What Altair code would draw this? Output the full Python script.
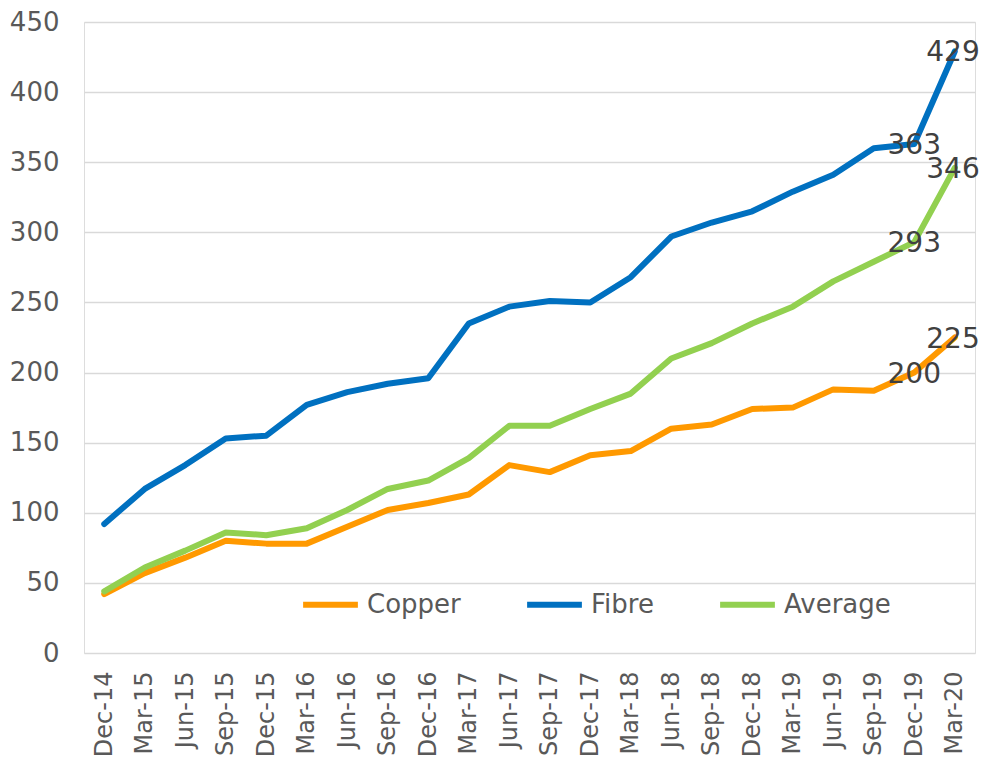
import altair as alt
import pandas as pd

dates = ["Dec-14", "Mar-15", "Jun-15", "Sep-15", "Dec-15", "Mar-16", "Jun-16", "Sep-16",
         "Dec-16", "Mar-17", "Jun-17", "Sep-17", "Dec-17", "Mar-18", "Jun-18", "Sep-18",
         "Dec-18", "Mar-19", "Jun-19", "Sep-19", "Dec-19", "Mar-20"]
copper = [42, 57, 68, 80, 78, 78, 90, 102, 107, 113, 134, 129, 141, 144, 160, 163, 174, 175, 188, 187, 200, 225]
fibre = [92, 117, 134, 153, 155, 177, 186, 192, 196, 235, 247, 251, 250, 268, 297, 307, 315, 329, 341, 360, 363, 429]
average = [44, 61, 73, 86, 84, 89, 102, 117, 123, 139, 162, 162, 174, 185, 210, 221, 235, 247, 265, 279, 293, 346]
series_names = ["Copper", "Fibre", "Average"]
series_colors = ["#FF9900", "#0070C0", "#92D050"]
labelled_dates = ["Dec-19", "Mar-20"]

rows = []
for name, vals in zip(series_names, [copper, fibre, average]):
    for d, v in zip(dates, vals):
        rows.append({"date": d, "value": v, "series": name})
df = pd.DataFrame(rows)

x_enc = alt.X("date:N", sort=dates, title=None,
              scale=alt.Scale(type="point", padding=0.5),
              axis=alt.Axis(labelAngle=270, labelFontSize=24, labelColor="#595959",
                            labelPadding=18, ticks=False, domain=False, grid=False))
y_enc = alt.Y("value:Q", title=None,
              scale=alt.Scale(domain=[0, 450], nice=False),
              axis=alt.Axis(values=list(range(0, 451, 50)), labelFontSize=26, labelColor="#595959",
                            labelPadding=25, ticks=False, domain=False, gridColor="#D9D9D9",
                            gridWidth=1.5))

lines = alt.Chart(df).mark_line(strokeWidth=6, strokeCap="round", strokeJoin="round").encode(
    x=x_enc,
    y=y_enc,
    color=alt.Color("series:N", scale=alt.Scale(domain=series_names, range=series_colors),
                    legend=alt.Legend(title=None, orient="none", direction="horizontal",
                                      legendX=216, legendY=552, symbolType="stroke",
                                      symbolSize=3000, symbolStrokeWidth=6,
                                      labelFontSize=26, labelColor="#595959",
                                      columnPadding=54, labelOffset=6)),
    order=alt.Order("series_order:Q"),
).transform_calculate(
    series_order="indexof(['Copper','Fibre','Average'], datum.series)"
)

labels_prev = alt.Chart(df).transform_filter(
    alt.datum.date == labelled_dates[0]
).mark_text(fontSize=28, color="#404040", align="center", baseline="middle", dy=2).encode(
    x=alt.X("date:N", sort=dates),
    y="value:Q",
    text="value:Q",
)

labels_last = alt.Chart(df).transform_filter(
    alt.datum.date == labelled_dates[1]
).mark_text(fontSize=28, color="#404040", align="right", baseline="middle", dy=2, dx=25).encode(
    x=alt.X("date:N", sort=dates),
    y="value:Q",
    text="value:Q",
)

chart = alt.layer(lines, labels_prev, labels_last).properties(
    width=891, height=631,
    autosize=alt.AutoSizeParams(type="none"),
    padding={"left": 76, "top": 14, "right": 4, "bottom": 106},
).configure_view(stroke=None).configure(font="DejaVu Sans")

chart.save("out.html", embed_options={"renderer": "svg", "actions": False})
